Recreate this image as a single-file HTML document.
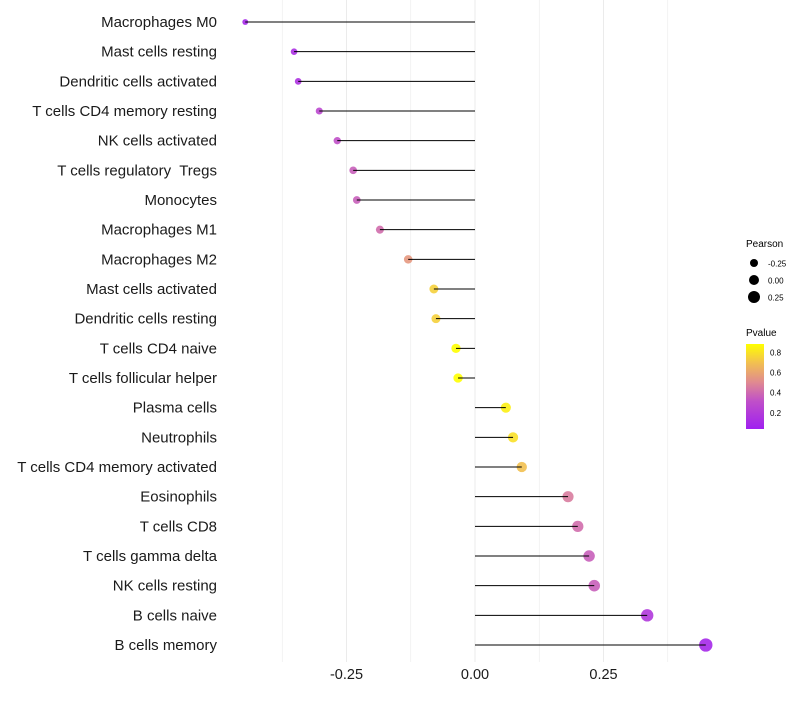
<!DOCTYPE html>
<html><head><meta charset="utf-8"><style>
body{margin:0;background:#fff;}
svg{font-family:"Liberation Sans",sans-serif;}
</style></head><body>
<svg id="chart" width="800" height="700" xmlns="http://www.w3.org/2000/svg">
<g id="grid"></g>
<g id="pts"></g>
<g id="lines"></g>
<g id="ylab"></g>
<g id="xlab"></g>
<g>
<text x="746" y="247" font-size="10" fill="#000">Pearson</text>
<circle cx="754" cy="263" r="4" fill="#000"/><text x="768" y="266.5" font-size="8">-0.25</text>
<circle cx="754" cy="280" r="5" fill="#000"/><text x="768" y="283.5" font-size="8">0.00</text>
<circle cx="754" cy="297" r="6" fill="#000"/><text x="768" y="300.5" font-size="8">0.25</text>
</g>
<g>
<defs><linearGradient id="cg" x1="0" y1="1" x2="0" y2="0">
<stop offset="0" stop-color="#a020f0"/><stop offset="0.33" stop-color="#c050c8"/>
<stop offset="0.55" stop-color="#e08a90"/><stop offset="0.78" stop-color="#f2c050"/><stop offset="1" stop-color="#ffff00"/>
</linearGradient></defs>
<text x="746" y="336" font-size="10">Pvalue</text>
<rect x="746" y="344" width="18" height="85" fill="url(#cg)"/>
<text x="770" y="355.5" font-size="8">0.8</text>
<text x="770" y="375.5" font-size="8">0.6</text>
<text x="770" y="395.5" font-size="8">0.4</text>
<text x="770" y="416" font-size="8">0.2</text>
</g>
</svg>
<script>
const categories=["Macrophages M0","Mast cells resting","Dendritic cells activated","T cells CD4 memory resting","NK cells activated","T cells regulatory  Tregs","Monocytes","Macrophages M1","Macrophages M2","Mast cells activated","Dendritic cells resting","T cells CD4 naive","T cells follicular helper","Plasma cells","Neutrophils","T cells CD4 memory activated","Eosinophils","T cells CD8","T cells gamma delta","NK cells resting","B cells naive","B cells memory"];
const pearson=[-0.447,-0.352,-0.344,-0.303,-0.268,-0.237,-0.230,-0.185,-0.130,-0.080,-0.076,-0.037,-0.033,0.060,0.074,0.091,0.181,0.200,0.222,0.232,0.335,0.449];
const pvalue=[0.05,0.1,0.12,0.25,0.3,0.35,0.35,0.4,0.55,0.75,0.75,0.9,0.9,0.85,0.8,0.7,0.45,0.4,0.35,0.35,0.15,0.05];
const xTicks=[-0.25,0,0.25];
const xTickLabels=["-0.25","0.00","0.25"];
const NS="http://www.w3.org/2000/svg";
const x=v=>475+v*514;
const y=i=>22+i*(623/21);
const r=v=>4.8+v*4.2;
function col(p){
 const st=[[0,[160,32,240]],[0.3,[192,80,200]],[0.5,[224,138,144]],[0.7,[242,192,80]],[0.9,[255,255,0]]];
 p=Math.max(0,Math.min(0.9,p));
 for(let k=0;k<st.length-1;k++){const a=st[k],b=st[k+1];if(p<=b[0]){const t=(p-a[0])/(b[0]-a[0]);return "rgb("+a[1].map((c,j)=>Math.round(c+(b[1][j]-c)*t)).join(",")+")";}}
 return "rgb(255,255,0)";
}
function mk(t,a,parent){const e=document.createElementNS(NS,t);for(const k in a)e.setAttribute(k,a[k]);parent.appendChild(e);return e;}
const G=document.getElementById("grid");
for(let k=-3;k<=3;k++){const g=k*0.125;const l=mk("line",{x1:x(g),x2:x(g),y1:0,y2:662,stroke:"#ebebeb","stroke-width":k%2===0?1:0.6},G);

}
const L=document.getElementById("lines"),P=document.getElementById("pts"),Y=document.getElementById("ylab"),X=document.getElementById("xlab");
categories.forEach((c,i)=>{
 const pt=mk("circle",{cx:x(pearson[i]),cy:y(i),r:r(pearson[i]),fill:col(pvalue[i]),"fill-opacity":0.9},P);
 
 
 const ln=mk("line",{x1:x(0),x2:x(pearson[i]),y1:y(i),y2:y(i),stroke:"#000","stroke-width":1},L);
 
 
 const t=mk("text",{x:217,y:y(i)+5,"text-anchor":"end","font-size":15,fill:"#1a1a1a","xml:space":"preserve",style:"white-space:pre"},Y);
 t.textContent=c;
 
 
});
xTicks.forEach((v,i)=>{const t=mk("text",{x:x(v),y:679,"text-anchor":"middle","font-size":14.5,fill:"#1a1a1a"},X);t.textContent=xTickLabels[i];
 
 });
</script>
</body></html>
